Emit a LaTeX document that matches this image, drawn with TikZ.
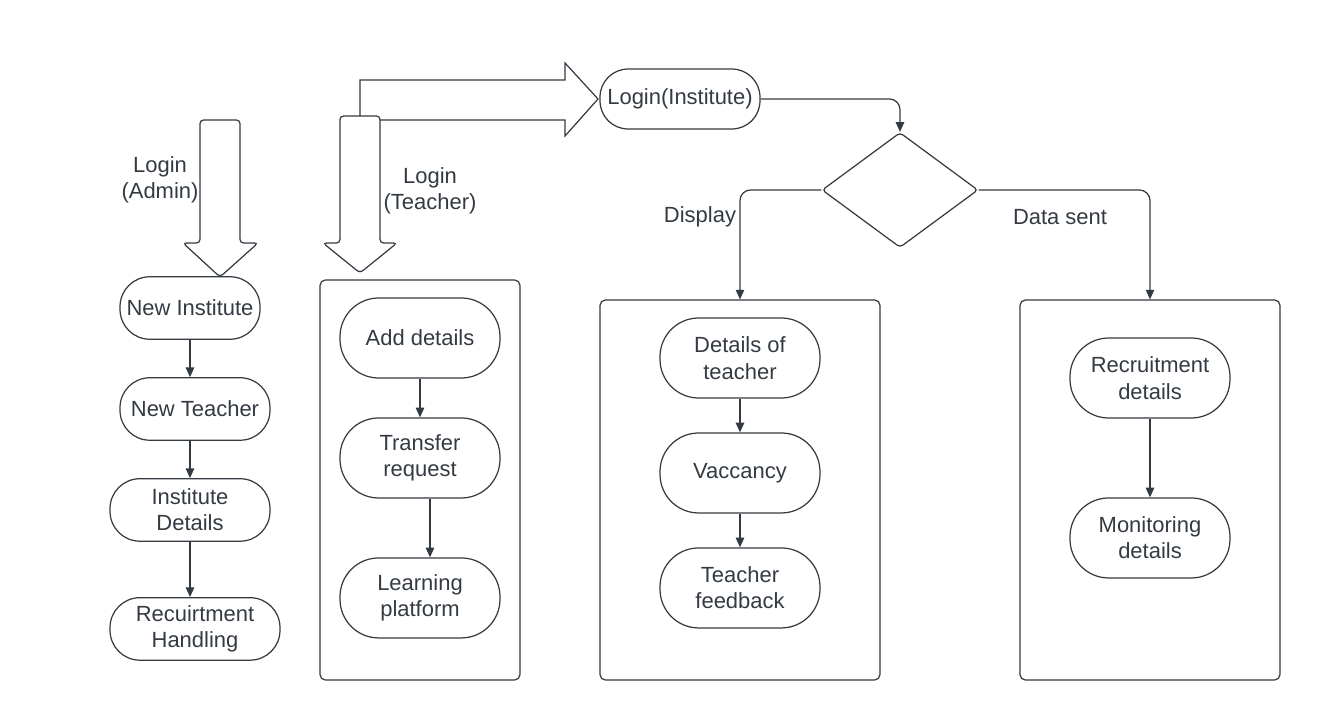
\documentclass[tikz,border=0pt]{standalone}
\usepackage{fontspec}
\setmainfont{Liberation Sans}
\usetikzlibrary{arrows.meta, shapes.geometric}

\definecolor{ink}{HTML}{343A42}

\begin{document}
\begin{tikzpicture}[x=0.02cm,y=-0.02cm,->,>={Triangle[length=5.5pt,width=4.8pt]},
  line width=0.7pt,draw=ink,color=ink,font=\fontsize{12.5}{15}\selectfont,
  pill/.style={draw=ink,rounded corners=17pt,align=center,inner sep=0pt,minimum height=1.25cm},
  task/.style={pill,rounded corners=22pt,minimum width=3.2cm,minimum height=1.6cm},
  panel/.style={draw=ink,rounded corners=3pt,inner sep=0pt}]
  \useasboundingbox (0,0) rectangle (1320,720);

  % admin column
  \node[pill,minimum width=2.8cm] (a1) at (190,308) {New Institute};
  \node[pill,minimum width=3cm] (a2) [below of=a1,node distance=2.02cm,xshift=0.1cm] {New Teacher};
  \node[pill,minimum width=3.2cm] (a3) [below of=a2,node distance=2.02cm,xshift=-0.1cm] {Institute\\Details};
  \node[pill,minimum width=3.4cm] (a4) [below of=a3,node distance=2.38cm,xshift=0.1cm] {Recuirtment\\Handling};
  \node[align=center] (la) at (160,180) {Login\\(Admin)};
  \draw[-,rounded corners=2pt] (200,120) -- (240,120) -- (240,243) -- (258,243)
    -- (220,277) -- (183,243) -- (200,243) -- cycle;

  % teacher
  \node[panel,minimum width=4cm,minimum height=8cm] (p1) at (420,480) {};
  \node[task] (t1) at (420,338) {Add details};
  \node[task] (t2) [below of=t1,node distance=2.4cm] {Transfer\\request};
  \node[task] (t3) [below of=t2,node distance=2.8cm] {Learning\\platform};
  \node[align=center] (lt) at (430,191) {Login\\(Teacher)};
  \draw[-,rounded corners=2pt] (340,116) -- (380,116) -- (380,243) -- (397,243)
    -- (360,273) -- (323,243) -- (340,243) -- cycle;
  \draw[-] (360,116) -- (360,80) -- (565,80) -- (565,63) -- (598,99)
    -- (565,136) -- (565,120) -- (380,120);

  % institute
  \node[pill,minimum width=3.2cm,minimum height=1.2cm,rounded corners=16pt] (li) at (680,99) {Login(Institute)};
  \node[draw=ink,diamond,minimum width=3.12cm,minimum height=2.3cm,inner sep=0pt,rounded corners=2pt] (q) at (900,190) {};
  \node (ld) at (700,217) {Display};
  \node (ls) at (1060,217) {Data sent};

  \node[panel,minimum width=5.6cm,minimum height=7.6cm] (p2) at (740,490) {};
  \node[task] (d1) at (740,358) {Details of\\teacher};
  \node[task] (d2) [below of=d1,node distance=2.3cm] {Vaccancy};
  \node[task] (d3) [below of=d2,node distance=2.3cm] {Teacher\\feedback};

  \node[panel,minimum width=5.2cm,minimum height=7.6cm] (p3) at (1150,490) {};
  \node[task] (s1) at (1150,378) {Recruitment\\details};
  \node[task] (s2) [below of=s1,node distance=3.2cm] {Monitoring\\details};

  \draw[rounded corners=6pt] (li.east) -| (q.north);
  \draw[rounded corners=6pt] (q.west) -| (p2.north);
  \draw[rounded corners=6pt] (q.east) -| (p3.north);

  \path
    (a1.south) edge (a1.south |- a2.north)
    (a3.north |- a2.south) edge (a3.north)
    (a3.south) edge (a3.south |- a4.north)
    (t1) edge (t2)
    ([xshift=0.2cm]t2.south) edge ([xshift=0.2cm]t3.north)
    (d1) edge (d2)
    (d2) edge (d3)
    (s1) edge (s2);
\end{tikzpicture}
\end{document}
